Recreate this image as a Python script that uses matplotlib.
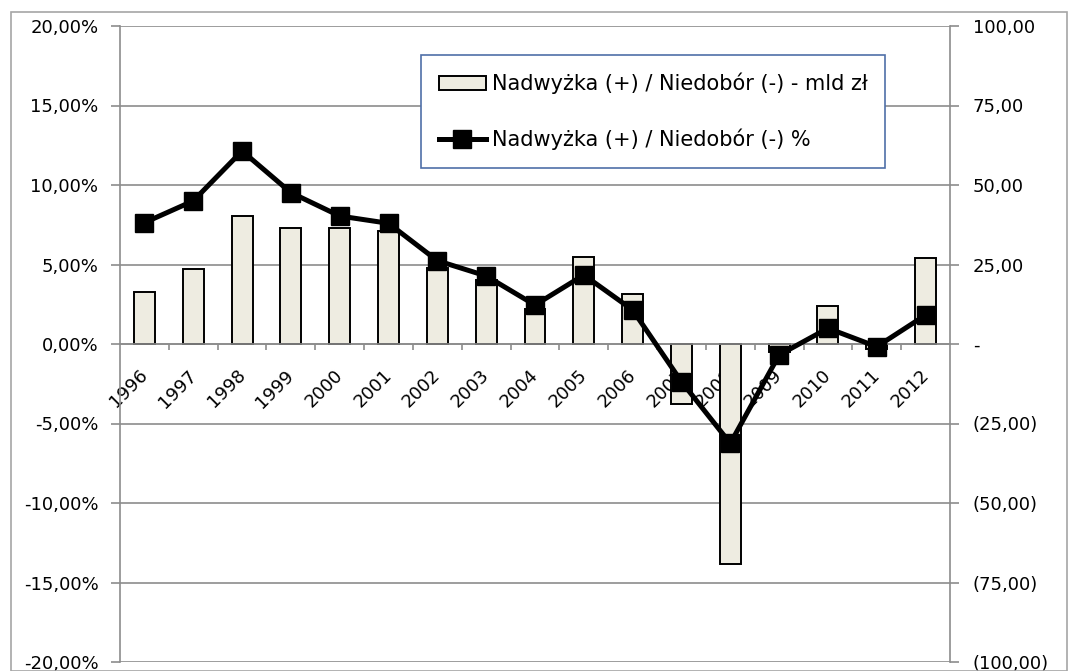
import matplotlib
matplotlib.use("Agg")
import matplotlib.pyplot as plt
import matplotlib.ticker as mtick
import matplotlib.transforms as mtrans
from matplotlib.patches import Rectangle
import numpy as np

years = [str(y) for y in range(1996, 2013)]
saldo_mld = [16.3, 23.5, 40.3, 36.5, 36.5, 35.5, 24.0, 20.0, 11.0, 27.5,
             15.6, -18.9, -69.3, -2.5, 11.9, -1.5, 26.9]
saldo_pct = [7.63, 9.0, 12.14, 9.52, 8.05, 7.59, 5.24, 4.28, 2.45, 4.34,
             2.14, -2.37, -6.25, -0.69, 0.99, -0.17, 1.82]
label_mld = "Nadwyżka (+) / Niedobór (-) - mld zł"
label_pct = "Nadwyżka (+) / Niedobór (-) %"

GRID = "#8C8C8C"
BAR = "#EEECE1"

plt.rcParams["font.family"] = ["DejaVu Sans"]
fig = plt.figure(figsize=(10.70, 6.71), dpi=100)
W, H = 1070, 671
fig.patches.append(Rectangle((11 / W, 0), (1067 - 11) / W, (H - 12) / H,
                             transform=fig.transFigure, fill=False,
                             edgecolor="#A6A6A6", linewidth=1.2))

ax = fig.add_axes([120 / W, 1 - 662 / H, (950 - 120) / W, (662 - 26) / H])
x = np.arange(len(years))

# bars (mld zl) - right scale
ax.set_axisbelow(True)
bars = ax.bar(x, saldo_mld, width=0.43, color=BAR, edgecolor="black",
              linewidth=1.4, label=label_mld, zorder=2)
ax.set_ylim(-100, 100)
ax.set_xlim(-0.5, len(years) - 0.5)

# line (%) - left scale
ax2 = ax.twinx()
ax2.patch.set_visible(False)
line, = ax2.plot(x, saldo_pct, color="black", linewidth=3.6, marker="s",
                 markersize=12.5, label=label_pct, zorder=3)
ax2.set_ylim(-20, 20)

ax.yaxis.tick_right()
ax.yaxis.set_major_locator(mtick.MultipleLocator(25))


def fmt_mld(v, _):
    if abs(v) < 1e-9:
        return "-"
    s = f"{abs(v):.2f}".replace(".", ",")
    return f"({s})" if v < 0 else s


ax.yaxis.set_major_formatter(mtick.FuncFormatter(fmt_mld))
ax.tick_params(axis="y", which="major", length=6.5, width=1.2, color=GRID,
               pad=10, labelsize=13)
ax.grid(True, axis="y", color=GRID, linewidth=1.2)

# category axis crossing at zero
ax.spines["top"].set_visible(False)
ax.spines["bottom"].set_position(("data", 0))
for side in ("bottom", "left", "right"):
    ax.spines[side].set_color(GRID)
    ax.spines[side].set_linewidth(1.2)
ax.set_xticks(x)
ax.set_xticklabels(years, rotation=45, ha="right", va="top",
                   rotation_mode="anchor", fontsize=13)
ax.tick_params(axis="x", which="major", length=0, pad=16)
shift = mtrans.ScaledTranslation(-6 / 100, 0, fig.dpi_scale_trans)
for lbl in ax.get_xticklabels():
    lbl.set_transform(lbl.get_transform() + shift)
ax.set_xticks(x[1:] - 0.5, minor=True)
ax.tick_params(axis="x", which="minor", length=4.3, width=1.2, color=GRID)

ax2.yaxis.tick_left()
ax2.yaxis.set_major_locator(mtick.MultipleLocator(5))
ax2.yaxis.set_major_formatter(
    mtick.FuncFormatter(lambda v, _: f"{v:.2f}".replace(".", ",") + "%"))
ax2.tick_params(axis="y", length=6.5, width=1.2, color=GRID, pad=9,
                labelsize=13)
for s in ax2.spines.values():
    s.set_visible(False)

leg = ax2.legend([bars, line], [label_mld, label_pct],
                 loc="upper left", bbox_to_anchor=(421 / W, 1 - 55 / H),
                 bbox_transform=fig.transFigure, frameon=True, fancybox=False,
                 edgecolor="#4F6FA8", framealpha=1, fontsize=15,
                 labelspacing=1.65, handlelength=2.25, handletextpad=0.3,
                 borderpad=0.85, borderaxespad=0)
leg.get_frame().set_linewidth(1.2)

fig.savefig("out.png", dpi=100)
